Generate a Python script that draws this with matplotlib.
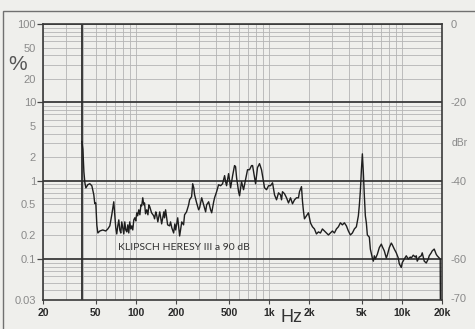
import matplotlib
matplotlib.use('Agg')
import matplotlib.pyplot as plt
import matplotlib.ticker as ticker
import numpy as np
from matplotlib.patches import Rectangle

# THD vs frequency
freq = [39.2, 39.9, 40.6, 41.3, 42.0, 43.5, 45.0, 46.6, 48.2, 49.0, 49.9, 50.8, 51.7, 53.5, 56.3, 59.3,
        61.4, 63.6, 65.8, 68.1, 69.3, 70.5, 71.7, 73.0, 74.3, 75.6, 76.9, 78.2, 79.6, 81.0, 82.4, 83.8,
        85.3, 86.8, 88.3, 89.8, 91.4, 93.0, 94.6, 96.3, 98.0, 99.7, 101.4, 103, 105, 107, 109, 110.5,
        112.5, 114.4, 116, 118, 120.5, 123, 125, 127, 131, 136, 138, 141, 143, 146, 151, 156, 162, 164,
        167, 173, 179, 182, 186, 192, 196, 199, 206, 213, 221, 228, 232, 240, 249, 253, 262, 267, 272,
        276, 286, 296, 301, 312, 323, 334, 340, 352, 364, 371, 384, 390, 404, 418, 433, 448, 464, 472,
        480, 497, 515, 533, 551, 561, 571, 591, 601, 622, 644, 667, 690, 714, 740, 753, 779, 793, 820,
        849, 879, 910, 926, 959, 993, 1028, 1064, 1101, 1140, 1180, 1221, 1243, 1264, 1309, 1355, 1402,
        1452, 1503, 1556, 1610, 1667, 1696, 1756, 1786, 1817, 1849, 1914, 1981, 2051, 2123, 2198, 2275,
        2355, 2438, 2523, 2612, 2704, 2799, 2897, 3000, 3105, 3214, 3327, 3444, 3565, 3691, 3821, 3955,
        4094, 4238, 4387, 4541, 4701, 4783, 4866, 4951, 5038, 5125, 5214, 5305, 5397, 5492, 5685, 5784,
        5988, 6092, 6198, 6306, 6528, 6757, 6995, 7117, 7367, 7626, 7759, 8032, 8314, 8459, 8757, 9064,
        9383, 9547, 9883, 10056, 10409, 10775, 11154, 11546, 11747, 12160, 12588, 12807, 13030, 13488,
        13962, 14206, 14706, 15222, 15757, 16031, 16595, 16884, 17478, 18092, 18407, 19054, 19386, 19450]
thd = [3.16, 2.5, 1.30, 0.94, 0.81, 0.89, 0.915, 0.86, 0.66, 0.51, 0.52, 0.27, 0.215, 0.228, 0.235, 0.228,
       0.242, 0.265, 0.367, 0.538, 0.367, 0.25, 0.209, 0.265, 0.316, 0.235, 0.215, 0.298, 0.25, 0.209, 0.298, 0.235,
       0.222, 0.273, 0.215, 0.298, 0.242, 0.265, 0.235, 0.316, 0.336, 0.307, 0.389, 0.356, 0.425, 0.367, 0.492, 0.478,
       0.605, 0.492, 0.52, 0.378, 0.425, 0.367, 0.492, 0.465, 0.389, 0.356, 0.326, 0.400, 0.367, 0.298, 0.400, 0.281, 0.400, 0.336,
       0.425, 0.273, 0.265, 0.298, 0.25, 0.215, 0.281, 0.235, 0.336, 0.197, 0.298, 0.273, 0.367, 0.400, 0.492, 0.570, 0.623, 0.915, 0.813,
       0.66, 0.52, 0.425, 0.451, 0.605, 0.492, 0.400, 0.492, 0.538, 0.425, 0.389, 0.538, 0.605, 0.723, 0.888, 0.863, 0.915, 1.16, 0.97,
       0.863, 1.23, 0.813, 1.16, 1.56, 1.51, 1.09, 0.723, 0.642, 0.97, 0.767, 1.03, 1.38, 1.38, 1.56, 1.56, 1.09, 0.915, 1.47,
       1.65, 1.38, 0.97, 0.813, 0.767, 0.863, 0.863, 0.94, 0.66, 0.57, 0.70, 0.66, 0.57, 0.723, 0.681, 0.605, 0.52,
       0.605, 0.507, 0.570, 0.605, 0.605, 0.723, 0.84, 0.55, 0.41, 0.326, 0.356, 0.389, 0.29, 0.258, 0.242, 0.209,
       0.222, 0.215, 0.242, 0.228, 0.215, 0.203, 0.215, 0.228, 0.215, 0.242, 0.258, 0.29, 0.273, 0.29, 0.265, 0.228,
       0.203, 0.215, 0.242, 0.258, 0.356, 0.49, 0.74, 1.34, 2.2, 1.27, 0.64, 0.356, 0.29, 0.203, 0.19, 0.134,
       0.103, 0.094, 0.11, 0.10, 0.115, 0.14, 0.155, 0.144, 0.127, 0.103, 0.112, 0.14, 0.16, 0.152, 0.134, 0.12,
       0.103, 0.087, 0.078, 0.09, 0.10, 0.11, 0.10, 0.106, 0.103, 0.112, 0.106, 0.11, 0.094, 0.106,
       0.11, 0.12, 0.094, 0.089, 0.10, 0.11, 0.12, 0.127, 0.134, 0.115, 0.11, 0.103, 0.1, 0.03]

f_start = 39.2   # dark marker line where the sweep starts
x_ticks = [20, 50, 100, 200, 500, 1000, 2000, 5000, 10000, 20000]
x_labels = ['20', '50', '100', '200', '500', '1k', '2k', '5k', '10k', '20k']
y_major = [0.1, 1, 10, 100]
y_major_labels = ['0.1', '1', '10', '100']
y_minor_labels = {0.03: '0.03', 0.2: '0.2', 0.5: '0.5', 2: '2', 5: '5', 20: '20', 50: '50'}
dbr_ticks = [100, 10, 1, 0.1, 0.0316]
dbr_labels = ['0', '-20', '-40', '-60', '-70']

paper = '#efefec'
plt.rcParams['font.family'] = ['Liberation Sans', 'DejaVu Sans']

fig = plt.figure(figsize=(4.75, 3.29), dpi=100, facecolor=paper)
ax = fig.add_axes([43/475, 1-300/329, 399/475, 276/329], facecolor=paper)
ax.set_xscale('log')
ax.set_yscale('log')
ax.set_xlim(20, 20000)
ax.set_ylim(0.03, 100)

ax.set_xticks(x_ticks, labels=x_labels)
ax.xaxis.set_minor_locator(ticker.LogLocator(subs=np.arange(2, 10)))
ax.xaxis.set_minor_formatter(ticker.NullFormatter())
ax.set_yticks(y_major, labels=y_major_labels)
ax.yaxis.set_minor_locator(ticker.LogLocator(subs=np.arange(2, 10)))


def ymin_fmt(v, pos):
    for k, s in y_minor_labels.items():
        if np.isclose(v, k):
            return s
    return ''


ax.yaxis.set_minor_formatter(ticker.FuncFormatter(ymin_fmt))

ax.tick_params(axis='x', which='major', length=3, width=0.8, color='#444', pad=3,
               labelsize=7.5, labelcolor='#2a2a2a')
ax.tick_params(axis='x', which='minor', length=0)
ax.tick_params(axis='y', which='major', length=4, width=0.9, color='#444', pad=1,
               labelsize=8, labelcolor='#8a8a8a')
ax.tick_params(axis='y', which='minor', length=0, pad=5, labelsize=8, labelcolor='#8a8a8a')
for lab in ax.get_xticklabels():
    lab.set_fontweight('bold')

ax.xaxis.grid(True, which='both', color='#b4b4b4', lw=0.6)
ax.yaxis.grid(True, which='minor', color='#b4b4b4', lw=0.6)
ax.yaxis.grid(True, which='major', color='#3a3a3a', lw=1.3)
ax.set_axisbelow(True)
for sp in ax.spines.values():
    sp.set_color('#3a3a3a')
    sp.set_linewidth(1.2)

ax.axvline(f_start, color='#2a2a2a', lw=1.3)
ax.plot(freq, thd, color='#1e1e1e', lw=1.0)

ax.text(0.1875, 0.19, 'KLIPSCH HERESY III a 90 dB', transform=ax.transAxes, fontsize=7.5,
        color='#333', ha='left', va='center', family=['Lato', 'DejaVu Sans'])

ax2 = ax.twinx()
ax2.set_yscale('log')
ax2.set_ylim(0.03, 100)
ax2.set_yticks(dbr_ticks, labels=dbr_labels)
ax2.yaxis.set_minor_locator(ticker.NullLocator())
ax2.tick_params(axis='y', length=0, pad=6, labelsize=8, labelcolor='#8a8a8a')
for sp in ax2.spines.values():
    sp.set_visible(False)

fig.text(18/475, 1-65/329, '%', fontsize=15, color='#555', ha='center', va='center')
fig.text(460/475, 1-143/329, 'dBr', fontsize=7.5, color='#8a8a8a', ha='center', va='center')
fig.text(292/475, 1-318/329, 'Hz', fontsize=13, color='#333', ha='center', va='center')

fig.patches.append(Rectangle((3/475, -0.05), 1.1, 1-11/329+0.05, transform=fig.transFigure,
                             fill=False, edgecolor='#707070', lw=1.0))

fig.savefig('out.png', dpi=100, facecolor=paper)
